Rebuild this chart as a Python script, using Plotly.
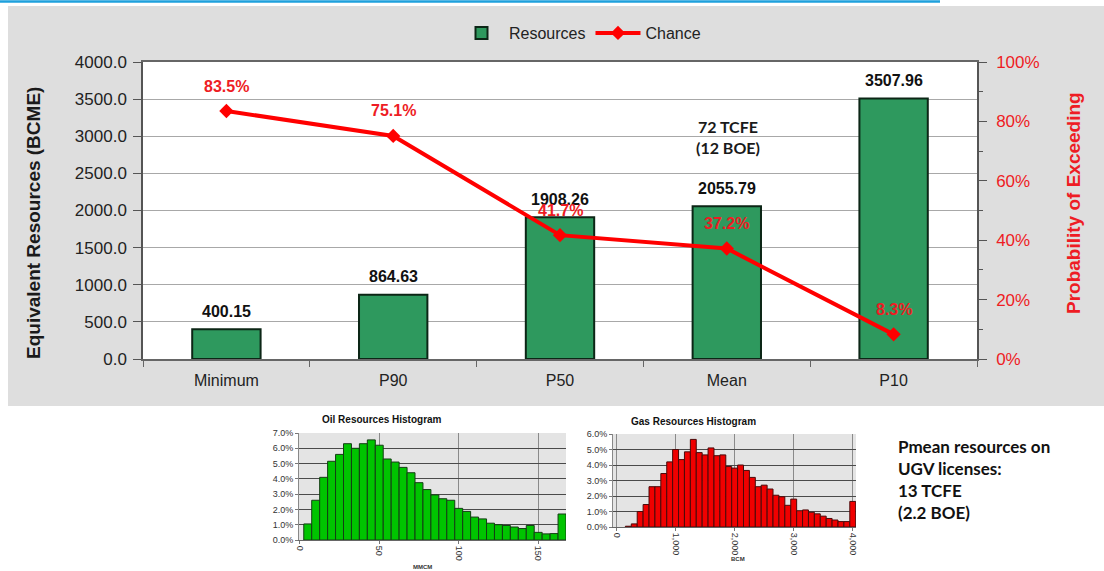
import plotly.graph_objects as go

# ---- main resource summary ----
categories = ["Minimum", "P90", "P50", "Mean", "P10"]
resources = [400.15, 864.63, 1908.26, 2055.79, 3507.96]
chance = [0.835, 0.751, 0.417, 0.372, 0.083]

# ---- oil histogram (MMCM bins, % of realisations) ----
oil_bins = [5, 10, 15, 20, 25, 30, 35, 40, 45, 50, 55, 60, 65, 70, 75, 80, 85,
            90, 95, 100, 105, 110, 115, 120, 125, 130, 135, 140, 145, 150, 155,
            160, 165]
oil_pct = [1.05, 2.6, 4.1, 5.15, 5.6, 6.3, 6.0, 6.3, 6.55, 6.2, 5.3, 5.1, 4.75,
           4.4, 3.75, 3.3, 2.95, 2.7, 2.6, 2.07, 1.87, 1.5, 1.38, 1.1, 1.0,
           0.95, 0.85, 0.75, 0.95, 0.5, 0.4, 0.42, 1.7]

# ---- gas histogram (BCM bins, % of realisations) ----
gas_bins = [200, 300, 400, 500, 600, 700, 800, 900, 1000, 1100, 1200, 1300,
            1400, 1500, 1600, 1700, 1800, 1900, 2000, 2100, 2200, 2300, 2400,
            2500, 2600, 2700, 2800, 2900, 3000, 3100, 3200, 3300, 3400, 3500,
            3600, 3700, 3800, 3900, 4000]
gas_pct = [0.05, 0.2, 1.0, 1.45, 2.6, 2.6, 3.45, 4.2, 5.0, 4.35, 4.85, 5.65,
           4.8, 4.65, 5.1, 4.6, 4.65, 3.9, 3.8, 4.0, 3.65, 3.2, 2.6, 2.7, 2.45,
           2.05, 1.95, 1.4, 1.8, 1.05, 1.1, 0.95, 0.85, 0.7, 0.55, 0.45, 0.35,
           0.35, 1.65]

W, H = 1104, 571
FONT = "Liberation Sans, Arial, sans-serif"
RED = "#ee1c24"
GREEN = "#2e995e"


def px(x):
    return x / W


def py(y):
    return 1 - y / H


def note(x, y, text, size, color="#111", family=FONT, **kw):
    d = dict(x=px(x), y=py(y), xref="paper", yref="paper", text=text,
             showarrow=False, xanchor="center", yanchor="middle",
             font=dict(size=size, color=color, family=family))
    d.update(kw)
    return d


fig = go.Figure()

fig.add_trace(go.Bar(
    x=categories, y=resources, name="Resources", width=0.41,
    marker=dict(color=GREEN, line=dict(color="#0c2616", width=2)),
    xaxis="x", yaxis="y",
))
fig.add_trace(go.Scatter(
    x=categories, y=chance, name="Chance", mode="lines+markers",
    line=dict(color="#ff0000", width=4),
    marker=dict(symbol="diamond", size=11, color="#ff0000"),
    xaxis="x", yaxis="y2",
))

fig.add_trace(go.Bar(
    x=oil_bins, y=oil_pct, width=5, showlegend=False,
    marker=dict(color="#00c400", line=dict(color="#143d14", width=1)),
    xaxis="x3", yaxis="y3",
))
fig.add_trace(go.Bar(
    x=gas_bins, y=gas_pct, width=100, showlegend=False,
    marker=dict(color="#f00000", line=dict(color="#4a0a0a", width=1)),
    xaxis="x4", yaxis="y4",
))

annotations = []
# value labels over the bars
for c, v in zip(categories, resources):
    annotations.append(dict(
        x=c, y=v, xref="x", yref="y", text=f"<b>{v:.2f}</b>", showarrow=False,
        xanchor="center", yanchor="middle", yshift=18,
        font=dict(size=16, color="#111", family=FONT),
    ))
# probability labels over the line points
for c, p in zip(categories, chance):
    annotations.append(dict(
        x=c, y=p, xref="x", yref="y2", text=f"<b>{p * 100:.1f}%</b>", showarrow=False,
        xanchor="center", yanchor="middle", yshift=25,
        font=dict(size=16, color=RED, family=FONT),
    ))

annotations += [
    note(33, 223, "<b>Equivalent Resources (BCME)</b>", 19, "#1a1a1a", textangle=-90),
    note(1073, 203, "<b>Probability of Exceeding</b>", 19, RED, textangle=-90),
    note(728, 137, "<b>72 TCFE<br>(12 BOE)</b>", 16, "#1a1a1a", "Lato, sans-serif"),
    note(896, 479, "<b>Pmean resources on<br>UGV licenses:<br>13 TCFE<br>(2.2 BOE)</b>",
         17, "#111", "Lato, sans-serif", xanchor="left", align="left"),
    note(382, 419, "<b>Oil Resources Histogram</b>", 10),
    note(693, 421, "<b>Gas Resources Histogram</b>", 10),
    note(422, 567, "<b>MMCM</b>", 6, "#333"),
    note(738, 559, "<b>BCM</b>", 6, "#333"),
]

shapes = [
    # grey panel behind the main chart
    dict(type="rect", xref="paper", yref="paper", x0=px(8), x1=1,
         y0=py(406), y1=py(6), fillcolor="#dedede", line=dict(width=0), layer="below"),
    # blue rule along the top
    dict(type="line", xref="paper", yref="paper", x0=0, x1=px(940),
         y0=py(1.5), y1=py(1.5), line=dict(color="#1ea0dc", width=2.5), layer="below"),
    # plot backgrounds
    dict(type="rect", xref="paper", yref="paper", x0=px(143), x1=px(977),
         y0=py(359), y1=py(62), fillcolor="white", line=dict(width=0), layer="below"),
    dict(type="rect", xref="paper", yref="paper", x0=px(299), x1=px(566),
         y0=py(540), y1=py(433), fillcolor="#e4e4e4", line=dict(width=0), layer="below"),
    dict(type="rect", xref="paper", yref="paper", x0=px(613), x1=px(856),
         y0=py(527), y1=py(434), fillcolor="#e4e4e4", line=dict(width=0), layer="below"),
]

HIST_TICK = dict(size=9, color="#333")

fig.update_layout(
    template="none",
    width=W, height=H,
    margin=dict(l=0, r=0, t=0, b=0, pad=0, autoexpand=False),
    paper_bgcolor="white", plot_bgcolor="rgba(0,0,0,0)",
    font=dict(family=FONT, color="#222"),
    barmode="overlay",
    showlegend=True,
    legend=dict(orientation="h", x=px(580), y=py(33), xanchor="center", yanchor="middle",
                font=dict(size=16, color="#222", family=FONT), bgcolor="rgba(0,0,0,0)",
                itemwidth=45, tracegroupgap=0),
    annotations=annotations,
    shapes=shapes,
    xaxis=dict(domain=[px(143), px(977)], anchor="y", type="category", automargin=False,
               range=[-0.5, 4.5], showline=True, mirror=True, linecolor="#666",
               linewidth=1.5, ticks="outside", tickson="boundaries", ticklen=6,
               tickcolor="#666", ticklabelstandoff=6,
               tickfont=dict(size=16, color="#222"), showgrid=False),
    yaxis=dict(domain=[py(359), py(62)], anchor="x", range=[0, 4000], dtick=500,
               automargin=False, tickformat=".1f", showline=True, linecolor="#555",
               linewidth=1.5, ticks="outside", ticklen=8, tickcolor="#555",
               gridcolor="#a8a8a8", gridwidth=1, ticklabelstandoff=3,
               tickfont=dict(size=17, color="#222"), zeroline=False),
    yaxis2=dict(overlaying="y", side="right", anchor="x", range=[0, 1], automargin=False,
                tickvals=[0, 0.2, 0.4, 0.6, 0.8, 1.0], tickformat=".0%",
                showline=True, linecolor="#555", linewidth=1.5, ticks="outside",
                ticklen=8, tickcolor="#555", showgrid=False, zeroline=False,
                ticklabelstandoff=6,
                minor=dict(dtick=0.1, ticks="outside", ticklen=4, tickcolor="#555"),
                tickfont=dict(size=17, color=RED)),
    xaxis3=dict(domain=[px(299), px(566)], anchor="y3", range=[-0.5, 167.5],
                automargin=False, tickvals=[0, 50, 100, 150], tickangle=90,
                showgrid=True, gridcolor="#8a8a8a", gridwidth=1, showline=True,
                linecolor="#666", ticks="outside", ticklen=3, tickcolor="#777",
                tickfont=HIST_TICK, zeroline=False),
    yaxis3=dict(domain=[py(540), py(433)], anchor="x3", range=[0, 7], dtick=1,
                automargin=False, tickformat=".1f", ticksuffix="%",
                gridcolor="#4a4a4a", gridwidth=1, showline=True, linecolor="#888",
                ticks="outside", ticklen=3, tickcolor="#777",
                tickfont=HIST_TICK, zeroline=False),
    xaxis4=dict(domain=[px(613), px(856)], anchor="y4", range=[-60, 4055],
                automargin=False, tickvals=[0, 1000, 2000, 3000, 4000], tickformat=",d",
                tickangle=90, showgrid=True, gridcolor="#8a8a8a", gridwidth=1,
                showline=True, linecolor="#666", ticks="outside", ticklen=3,
                tickcolor="#777", tickfont=HIST_TICK, zeroline=False),
    yaxis4=dict(domain=[py(527), py(434)], anchor="x4", range=[0, 6], dtick=1,
                automargin=False, tickformat=".1f", ticksuffix="%",
                gridcolor="#4a4a4a", gridwidth=1, showline=True, linecolor="#888",
                ticks="outside", ticklen=3, tickcolor="#777",
                tickfont=HIST_TICK, zeroline=False),
)

fig.write_html("out.html")
